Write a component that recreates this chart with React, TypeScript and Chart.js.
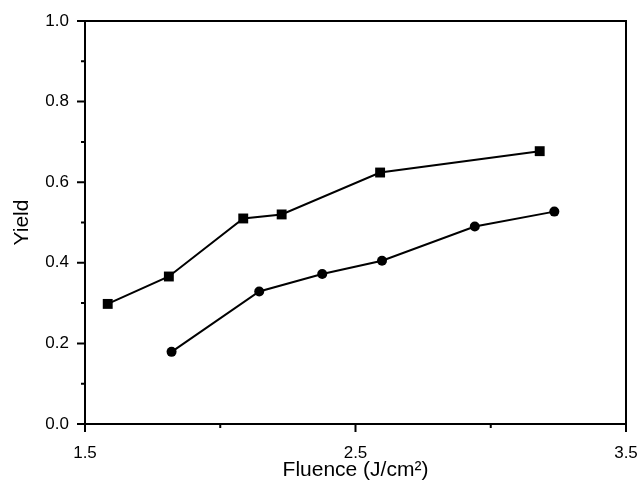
import React, { useEffect, useRef } from "react";
import { Chart, registerables } from "chart.js";

Chart.register(...registerables);

// Fluence (J/cm²) and yield values
const squareFluence = [1.584, 1.81, 2.085, 2.227, 2.591, 3.181];
const squareYield = [0.298, 0.366, 0.51, 0.52, 0.624, 0.677];
const circleFluence = [1.82, 2.144, 2.377, 2.598, 2.941, 3.235];
const circleYield = [0.179, 0.329, 0.372, 0.405, 0.49, 0.527];

const xLabeledTicks = [1.5, 2.5, 3.5];
const xTitle = "Fluence (J/cm²)";
const yTitle = "Yield";

const FONT = "'Liberation Sans', Arial, Helvetica, sans-serif";

const frameAndTicks = {
  id: "frameAndTicks",
  afterDraw(chart: any) {
    const { ctx, chartArea } = chart;
    const xs = chart.scales.x;
    const ys = chart.scales.y;
    ctx.save();
    ctx.strokeStyle = "#000";
    ctx.lineWidth = 2;
    ctx.strokeRect(chartArea.left, chartArea.top, chartArea.right - chartArea.left, chartArea.bottom - chartArea.top);
    ctx.beginPath();
    xs.ticks.forEach((t: any) => {
      const px = xs.getPixelForValue(t.value);
      const major = xLabeledTicks.some((v) => Math.abs(v - t.value) < 1e-6);
      ctx.moveTo(px, chartArea.bottom);
      ctx.lineTo(px, chartArea.bottom + (major ? 8 : 4));
    });
    ys.ticks.forEach((t: any) => {
      const py = ys.getPixelForValue(t.value);
      const major = Math.round(t.value * 10) % 2 === 0;
      ctx.moveTo(chartArea.left, py);
      ctx.lineTo(chartArea.left - (major ? 8 : 4), py);
    });
    ctx.stroke();
    ctx.restore();
  },
};

export default function App() {
  const ref = useRef<HTMLCanvasElement | null>(null);
  useEffect(() => {
    if (!ref.current) return;
    const chart = new Chart(ref.current, {
      type: "line",
      data: {
        datasets: [
          {
            data: squareFluence.map((x, i) => ({ x, y: squareYield[i] })),
            borderColor: "#000",
            backgroundColor: "#000",
            borderWidth: 2,
            pointStyle: "rect",
            pointRadius: 7,
            pointBorderWidth: 0,
            tension: 0,
          },
          {
            data: circleFluence.map((x, i) => ({ x, y: circleYield[i] })),
            borderColor: "#000",
            backgroundColor: "#000",
            borderWidth: 2,
            pointStyle: "circle",
            pointRadius: 5,
            pointBorderWidth: 0,
            tension: 0,
          },
        ],
      },
      options: {
        animation: false,
        responsive: false,
        devicePixelRatio: 1,
        layout: { padding: { left: 0, top: 21, right: 16, bottom: 0 } },
        plugins: { legend: { display: false }, tooltip: { enabled: false } },
        scales: {
          x: {
            type: "linear",
            min: 1.5,
            max: 3.5,
            grid: { display: false, drawTicks: false },
            border: { display: false },
            ticks: {
              stepSize: 0.5,
              autoSkip: false,
              maxRotation: 0,
              padding: 19,
              color: "#000",
              font: { family: FONT, size: 17 },
              callback: (v: any) =>
                xLabeledTicks.some((l) => Math.abs(l - Number(v)) < 1e-6) ? Number(v).toFixed(1) : "",
            },
            title: {
              display: true,
              text: xTitle,
              color: "#000",
              font: { family: FONT, size: 21 },
              padding: { top: 0, bottom: 7 },
            },
            afterFit: (s: any) => {
              s.height = 66;
              s.paddingLeft = 0;
              s.paddingRight = 0;
            },
          },
          y: {
            min: 0,
            max: 1,
            grid: { display: false, drawTicks: false },
            border: { display: false },
            ticks: {
              stepSize: 0.1,
              autoSkip: false,
              padding: 16,
              color: "#000",
              font: { family: FONT, size: 17 },
              callback: (v: any) => (Math.round(Number(v) * 10) % 2 === 0 ? Number(v).toFixed(1) : ""),
            },
            title: {
              display: true,
              text: yTitle,
              color: "#000",
              font: { family: FONT, size: 21 },
              padding: { top: 10, bottom: 0 },
            },
            afterFit: (s: any) => {
              s.width = 85;
              s.paddingTop = 0;
              s.paddingBottom = 0;
            },
          },
        },
      },
      plugins: [frameAndTicks],
    });
    return () => chart.destroy();
  }, []);
  return (
    <div style={{ position: "fixed", left: 0, top: 0, width: 642, height: 490, background: "#fff" }}>
      <canvas ref={ref} width={642} height={490} style={{ width: 642, height: 490 }} />
    </div>
  );
}
